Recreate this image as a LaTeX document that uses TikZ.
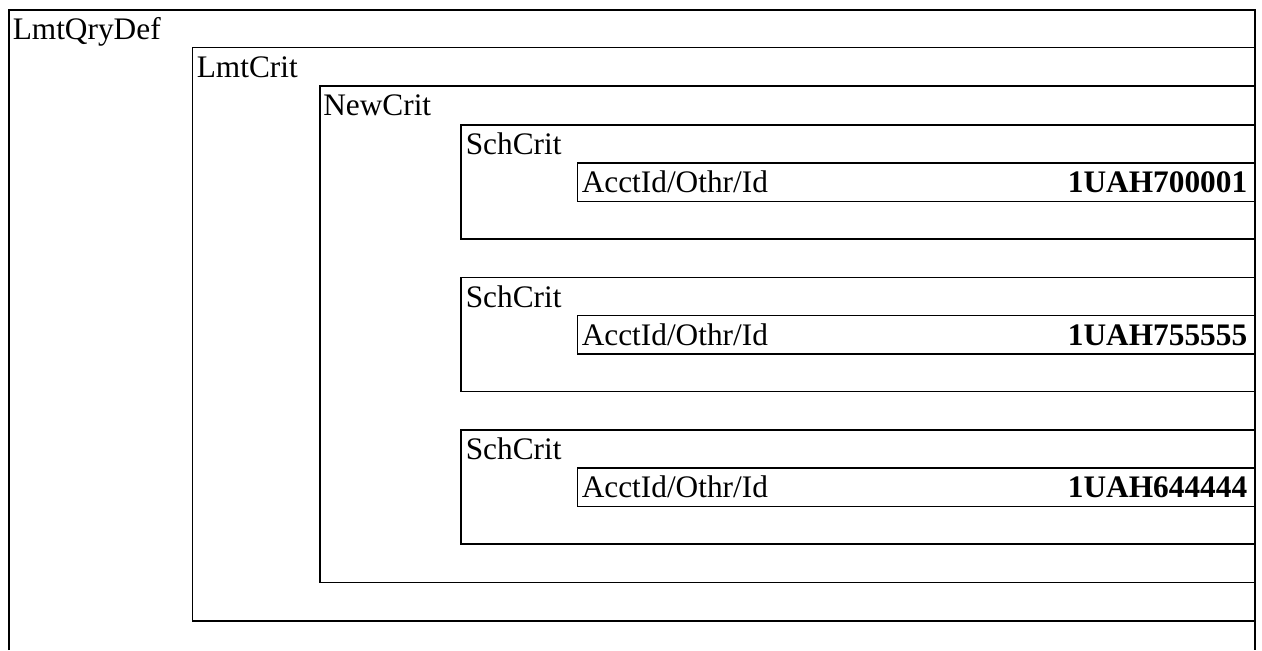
\documentclass[tikz,border=0pt]{standalone}
\usepackage{fontspec}
\setmainfont{Liberation Serif}
\begin{document}
\begin{tikzpicture}[x=0.75pt,y=-0.75pt,
  frame/.style={line width=1.3pt,black},
  lbl/.style={anchor=base west,inner sep=0pt,font=\fontsize{23.5}{28}\selectfont},
  val/.style={anchor=base east,inner sep=0pt,font=\fontsize{23.5}{28}\selectfont\bfseries}]
\useasboundingbox (0,0) rectangle (1262,650);
% outer LmtQryDef frame (open at the bottom)
\draw[frame] (9,650) -- (9,10) -- (1255,10) -- (1255,650);
\node[lbl] (qry) at (12.5,39) {LmtQryDef};
% LmtCrit
\draw[frame] (192.5,47.5) rectangle (1255,621);
\node[lbl] (lmt) at (196.5,77.5) {LmtCrit};
% NewCrit
\draw[frame] (320,86) rectangle (1255,582.5);
\node[lbl] (new) at (323,115.5) {NewCrit};
% SchCrit blocks
\foreach \t/\v/\n in {125/1UAH700001/1, 277.5/1UAH755555/2, 430/1UAH644444/3}{
  \draw[frame] (461,\t) rectangle (1255,\t+114);
  \node[lbl] (sch\n) at (465.5,\t+29.5) {SchCrit};
  \draw[frame] (577.5,\t+38) rectangle (1255,\t+76.5);
  \node[lbl] (acct\n) at (581.5,\t+67.5) {AcctId/Othr/Id};
  \node[val] (val\n) at (1247.5,\t+67.5) {\v};
}
\end{tikzpicture}
\end{document}
